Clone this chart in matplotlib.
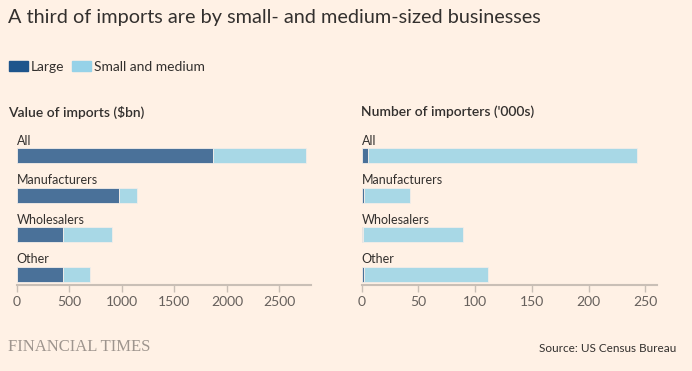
import matplotlib
matplotlib.use('Agg')
import matplotlib.pyplot as plt
import matplotlib.patches as mpatches

#data
categories = ['All', 'Manufacturers', 'Wholesalers', 'Other']
value_large = [1872, 974, 441, 444]        #$bn
value_small = [876, 169, 470, 251]
count_large = [5.9, 2.1, 1.2, 2.3]         #'000s
count_small = [236.8, 40.3, 87.9, 108.9]
value_ticks = [0, 500, 1000, 1500, 2000, 2500]
count_ticks = [0, 50, 100, 150, 200, 250]

bg = '#fff1e5'
dark = '#4a7199'
light = '#a8d8e6'
text_col = '#33302e'
axis_col = '#c9bfb6'

plt.rcParams['font.family'] = ['Lato', 'DejaVu Sans']

fig = plt.figure(figsize=(6.92, 3.71), dpi=100, facecolor=bg)

def panel(rect, large, small, ticks, xmax):
    ax = fig.add_axes(rect)
    ax.set_facecolor(bg)
    y = list(range(len(categories)))
    ax.barh(y, large, height=0.38, color=dark, edgecolor='#f3ede8', linewidth=0.6)
    ax.barh(y, small, left=large, height=0.38, color=light, edgecolor='#f3ede8', linewidth=0.6)
    for i, c in enumerate(categories):
        ax.text(0, i - 0.28, c, fontsize=9, color=text_col, va='baseline', ha='left')
    ax.set_xlim(0, xmax)
    ax.set_ylim(3.281, -0.524)
    ax.set_xticks(ticks)
    ax.set_xticklabels([str(t) for t in ticks])
    ax.set_yticks([])
    for s in ['top', 'right', 'left']:
        ax.spines[s].set_visible(False)
    ax.spines['bottom'].set_color(axis_col)
    ax.spines['bottom'].set_linewidth(1.5)
    ax.tick_params(axis='x', colors=axis_col, length=5, width=1, labelsize=10,
                   labelcolor='#66605c', pad=3)
    return ax

panel([16.7/692, 0.231, (311-16.7)/692, 0.405], value_large, value_small, value_ticks, 2800)
panel([361.7/692, 0.231, (656.7-361.7)/692, 0.405], count_large, count_small, count_ticks, 260)

fig.text(8/692, 1 - 17/371, 'A third of imports are by small- and medium-sized businesses',
         fontsize=14.3, color=text_col, va='center', ha='left')

#legend swatches
fig.patches.append(mpatches.Rectangle((9/692, 1 - 71/371), 19/692, 10/371,
                                      color='#1e558c', transform=fig.transFigure))
fig.text(31/692, 1 - 67/371, 'Large', fontsize=10, color=text_col, va='center')
fig.patches.append(mpatches.Rectangle((72/692, 1 - 71/371), 19/692, 10/371,
                                      color='#96d2e8', transform=fig.transFigure))
fig.text(94/692, 1 - 67/371, 'Small and medium', fontsize=10, color=text_col, va='center')

fig.text(8/692, 1 - 112/371, 'Value of imports ($bn)', fontsize=10, color=text_col,
         va='center', fontweight='semibold')
fig.text(361/692, 1 - 112/371, "Number of importers ('000s)", fontsize=10, color=text_col,
         va='center', fontweight='semibold')

fig.text(8/692, 1 - 347/371, 'FINANCIAL TIMES', fontsize=12, color='#9e958e',
         va='center', family=['Liberation Serif', 'DejaVu Serif'])
fig.text(676/692, 1 - 348/371, 'Source: US Census Bureau', fontsize=8.5, color=text_col,
         va='center', ha='right')

fig.savefig('out.png', dpi=100, facecolor=bg)
